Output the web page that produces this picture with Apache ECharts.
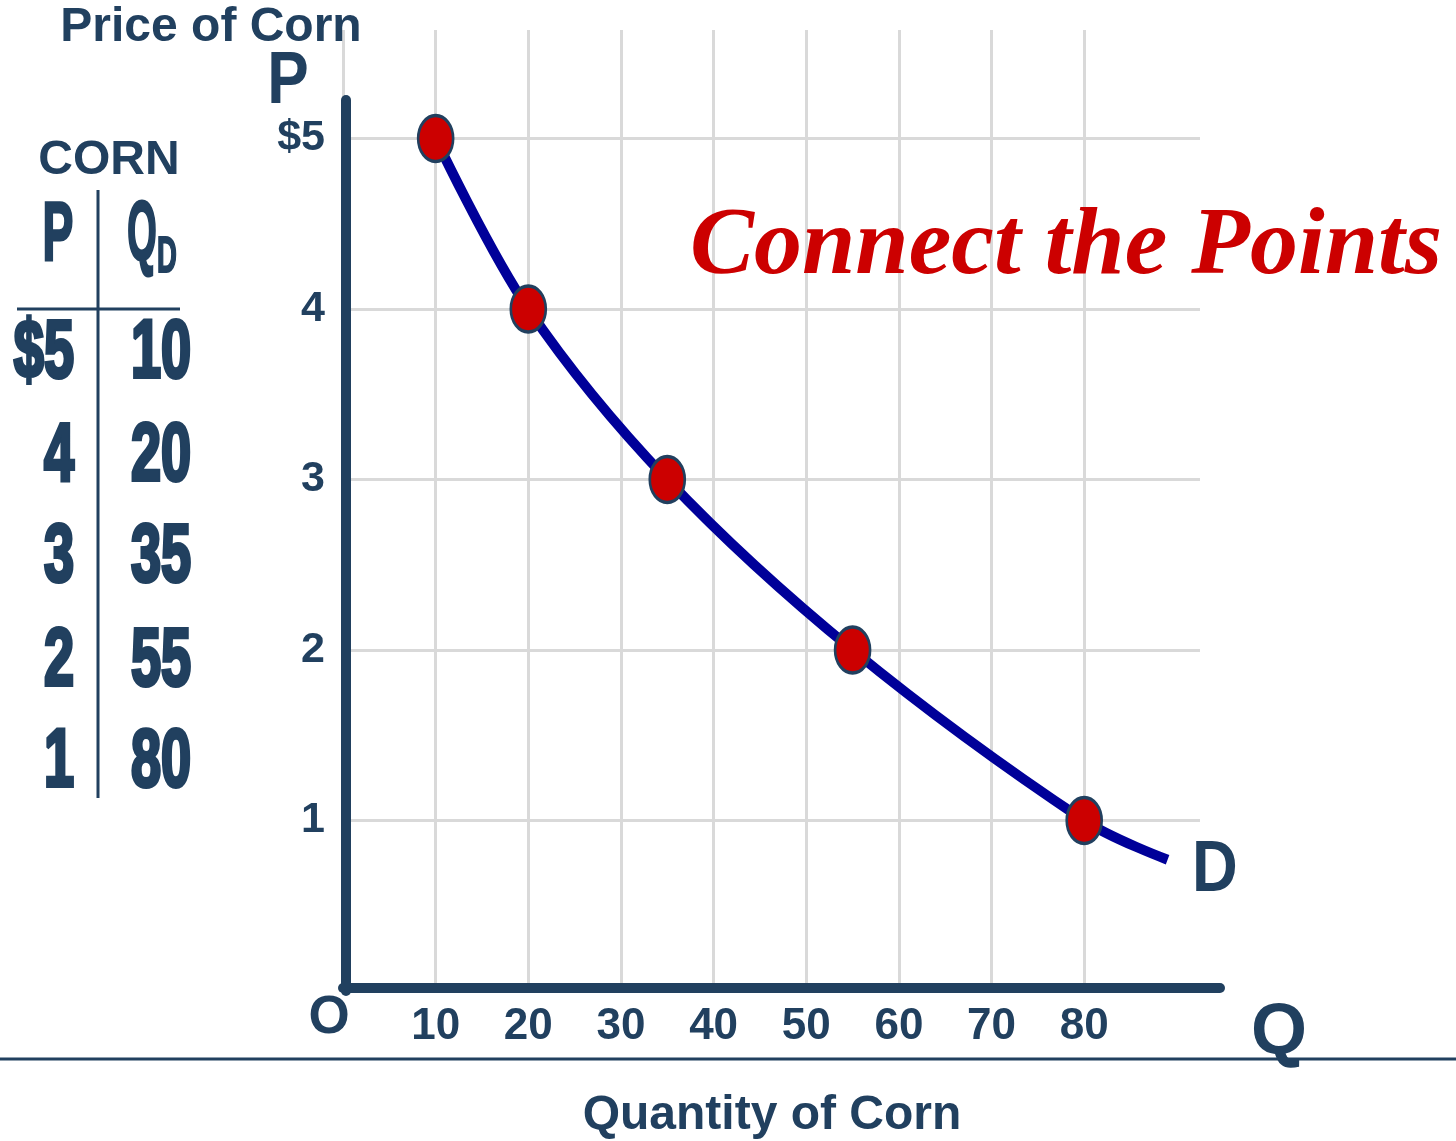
<!DOCTYPE html>
<html>
<head>
<meta charset="utf-8">
<script src="https://cdn.jsdelivr.net/npm/echarts@6/dist/echarts.min.js"></script>
<style>
html,body{margin:0;padding:0;background:#fff;}
#chart{width:1456px;height:1141px;}
</style>
</head>
<body>
<div id="chart"></div>
<script>
// ---- data ----
const prices = [5, 4, 3, 2, 1];
const quantities = [10, 20, 35, 55, 80];
const priceLabels = ['$5', '4', '3', '2', '1'];
const qtyLabels = ['10', '20', '35', '55', '80'];
const curveTail = [89, 0.77];            // where the drawn curve D ends
const xTicks = [10, 20, 30, 40, 50, 60, 70, 80];
const yTicks = [1, 2, 3, 4, 5];

const NAVY = '#21405f';
const GRID = '#d9d9d9';
const SANS = '"Liberation Sans", Arial, sans-serif';

// layout
const X0 = 343, PXX = 9.265;   // px per unit of Q
const Y0 = 991, PXY = 170.5;   // px per unit of P

const curveData = quantities.map((q, i) => [q, prices[i]]).concat([curveTail]);
const pointData = quantities.map((q, i) => [q, prices[i]]);

function txt(text, x, y, size, opts) {
  opts = opts || {};
  return {
    type: 'text', x: x, y: y, z: 50,
    scaleX: opts.sx || 1, scaleY: opts.sy || 1,
    style: {
      text: text,
      font: (opts.italic ? 'italic ' : '') + 'bold ' + size + 'px ' + (opts.family || SANS),
      fill: opts.color || NAVY,
      stroke: opts.stroke || null,
      lineWidth: opts.lw || 0,
      textAlign: opts.align || 'center', align: opts.align || 'center',
      textVerticalAlign: 'middle', verticalAlign: 'middle'
    }
  };
}

const graphics = [];
// titles
graphics.push(txt('Price of Corn', 211, 28, 48));
graphics.push(txt('Quantity of Corn', 772, 1116, 48));
graphics.push(txt('P', 288, 83, 74, {sx: 0.84}));
graphics.push(txt('O', 329, 1018, 53));
graphics.push(txt('Q', 1279, 1034, 72));
graphics.push(txt('D', 1215, 871, 72, {sx: 0.88}));
graphics.push(txt('Connect the Points', 1066, 248, 96, {italic: true, family: '"Liberation Serif", "Times New Roman", serif', color: '#cc0000'}));
// table
graphics.push(txt('CORN', 109, 161, 48));
graphics.push(txt('P', 58, 237, 84, {sx: 0.55, stroke: NAVY, lw: 3}));
graphics.push(txt('Q', 142, 237, 84, {sx: 0.45, stroke: NAVY, lw: 3}));
graphics.push(txt('D', 167, 258, 50, {sx: 0.55, stroke: NAVY, lw: 2}));
const rowY = [354, 457, 558, 662, 763];
priceLabels.forEach((t, i) => {
  graphics.push(txt(t, 74, rowY[i], 82, {align: 'right', sx: 0.66, stroke: NAVY, lw: 4}));
});
qtyLabels.forEach((t, i) => {
  graphics.push(txt(t, 131, rowY[i], 82, {align: 'left', sx: 0.66, stroke: NAVY, lw: 4}));
});
graphics.push({type: 'line', z: 40, shape: {x1: 98, y1: 190, x2: 98, y2: 798}, style: {stroke: NAVY, lineWidth: 3}});
graphics.push({type: 'line', z: 40, shape: {x1: 17, y1: 309, x2: 180, y2: 309}, style: {stroke: NAVY, lineWidth: 3}});
// bottom separator
graphics.push({type: 'line', z: 40, shape: {x1: 0, y1: 1059, x2: 1456, y2: 1059}, style: {stroke: NAVY, lineWidth: 3}});

const chart = echarts.init(document.getElementById('chart'), null, {renderer: 'canvas'});
const option = {
  animation: false,
  backgroundColor: '#fff',
  grid: [
    // vertical gridlines + x tick labels
    {left: X0, top: 30, width: 80 * PXX, height: Y0 - 30, outerBoundsMode: 'none', containLabel: false},
    // horizontal gridlines + y tick labels
    {left: X0, top: Y0 - 5 * PXY, width: 1200 - X0, height: 5 * PXY, outerBoundsMode: 'none', containLabel: false},
    // axes + data
    {left: X0, top: 100, width: 877, height: Y0 - 100, outerBoundsMode: 'none', containLabel: false}
  ],
  xAxis: [
    {gridIndex: 0, type: 'value', min: 0, max: 80, interval: 10,
     axisLine: {show: false}, axisTick: {show: false},
     splitLine: {show: true, lineStyle: {color: GRID, width: 3}},
     axisLabel: {show: true, margin: 14, fontSize: 44, fontWeight: 'bold', fontFamily: SANS, color: NAVY,
       formatter: v => (xTicks.indexOf(v) >= 0 ? String(v) : '')}},
    {gridIndex: 1, type: 'value', min: 0, max: (1200 - X0) / PXX, show: false},
    {gridIndex: 2, type: 'value', min: 0, max: 877 / PXX, offset: -3,
     axisLine: {show: true, lineStyle: {color: NAVY, width: 10}},
     axisTick: {show: false}, axisLabel: {show: false}, splitLine: {show: false}}
  ],
  yAxis: [
    {gridIndex: 0, type: 'value', min: 0, max: (Y0 - 30) / PXY, show: false},
    {gridIndex: 1, type: 'value', min: 0, max: 5, interval: 1,
     axisLine: {show: false}, axisTick: {show: false},
     splitLine: {show: true, lineStyle: {color: GRID, width: 3}},
     axisLabel: {show: true, margin: 18, fontSize: 43, fontWeight: 'bold', fontFamily: SANS, color: NAVY,
       formatter: v => (yTicks.indexOf(v) >= 0 ? (v === 5 ? '$5' : String(v)) : '')}},
    {gridIndex: 2, type: 'value', min: 0, max: (Y0 - 100) / PXY, offset: -3,
     axisLine: {show: true, lineStyle: {color: NAVY, width: 10}},
     axisTick: {show: false}, axisLabel: {show: false}, splitLine: {show: false}}
  ],
  series: [
    {type: 'line', xAxisIndex: 2, yAxisIndex: 2, data: curveData, smooth: 0.35,
     showSymbol: false, symbol: 'none', z: 5,
     lineStyle: {color: '#000099', width: 10, cap: 'butt'}},
    {type: 'scatter', xAxisIndex: 2, yAxisIndex: 2, data: pointData, z: 10,
     symbol: 'circle', symbolSize: [35, 46],
     itemStyle: {color: '#cc0000', borderColor: NAVY, borderWidth: 3, opacity: 1}}
  ],
  graphic: graphics
};
chart.setOption(option);
</script>
</body>
</html>
